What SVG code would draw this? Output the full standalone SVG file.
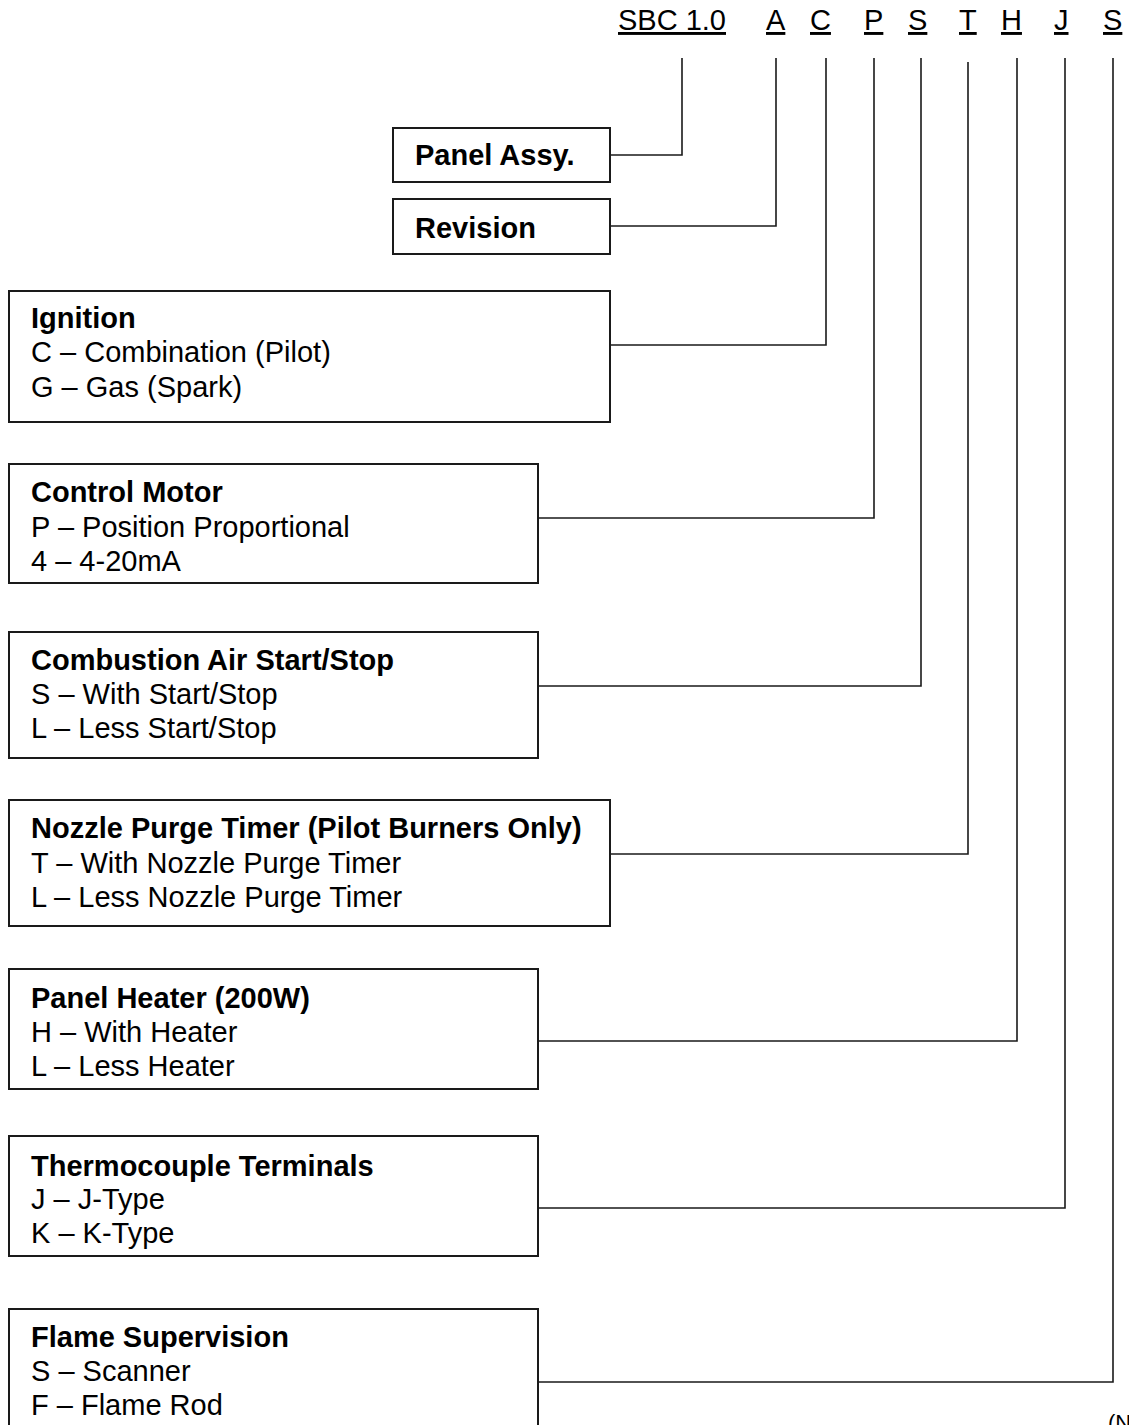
<svg xmlns="http://www.w3.org/2000/svg" width="1129" height="1425" viewBox="0 0 1129 1425">
<style>
text{font-family:"Liberation Sans",Arial,sans-serif;font-size:29px;fill:#000}
.b{font-weight:bold}
.u{text-decoration:underline}
.box{fill:#fff;stroke:#1a1a1a;stroke-width:2}
.c{fill:none;stroke:#1a1a1a;stroke-width:1.6}
</style>
<rect width="1129" height="1425" fill="#fff"/>
<g id="header">
<text class="u" x="618" y="30">SBC 1.0</text>
<text class="u" x="766" y="30">A</text>
<text class="u" x="810" y="30">C</text>
<text class="u" x="864" y="30">P</text>
<text class="u" x="908" y="30">S</text>
<text class="u" x="959" y="30">T</text>
<text class="u" x="1001" y="30">H</text>
<text class="u" x="1054" y="30">J</text>
<text class="u" x="1103" y="30">S</text>
</g>
<g id="connectors">
<polyline class="c" points="682,58 682,155 610,155"/>
<polyline class="c" points="776,58 776,226 610,226"/>
<polyline class="c" points="826,58 826,345 610,345"/>
<polyline class="c" points="874,58 874,518 538,518"/>
<polyline class="c" points="921,58 921,686 538,686"/>
<polyline class="c" points="968,62 968,854 610,854"/>
<polyline class="c" points="1017,58 1017,1041 538,1041"/>
<polyline class="c" points="1065,58 1065,1208 538,1208"/>
<polyline class="c" points="1113,58 1113,1382 538,1382"/>
</g>
<g id="panel-assy">
<rect class="box" x="393" y="128" width="217" height="54"/>
<text class="b" x="415" y="165">Panel Assy.</text>
</g>
<g id="revision">
<rect class="box" x="393" y="199" width="217" height="55"/>
<text class="b" x="415" y="238">Revision</text>
</g>
<g id="ignition">
<rect class="box" x="9" y="291" width="601" height="131"/>
<text class="b" x="31" y="328">Ignition</text>
<text x="31" y="362">C – Combination (Pilot)</text>
<text x="31" y="397">G – Gas (Spark)</text>
</g>
<g id="control-motor">
<rect class="box" x="9" y="464" width="529" height="119"/>
<text class="b" x="31" y="502">Control Motor</text>
<text x="31" y="537">P – Position Proportional</text>
<text x="31" y="571">4 – 4-20mA</text>
</g>
<g id="combustion-air">
<rect class="box" x="9" y="632" width="529" height="126"/>
<text class="b" x="31" y="670">Combustion Air Start/Stop</text>
<text x="31" y="704">S – With Start/Stop</text>
<text x="31" y="738">L – Less Start/Stop</text>
</g>
<g id="nozzle-purge">
<rect class="box" x="9" y="800" width="601" height="126"/>
<text class="b" x="31" y="838">Nozzle Purge Timer (Pilot Burners Only)</text>
<text x="31" y="873">T – With Nozzle Purge Timer</text>
<text x="31" y="907">L – Less Nozzle Purge Timer</text>
</g>
<g id="panel-heater">
<rect class="box" x="9" y="969" width="529" height="120"/>
<text class="b" x="31" y="1008">Panel Heater (200W)</text>
<text x="31" y="1042">H – With Heater</text>
<text x="31" y="1076">L – Less Heater</text>
</g>
<g id="thermocouple">
<rect class="box" x="9" y="1136" width="529" height="120"/>
<text class="b" x="31" y="1176">Thermocouple Terminals</text>
<text x="31" y="1209">J – J-Type</text>
<text x="31" y="1243">K – K-Type</text>
</g>
<g id="flame-supervision">
<rect class="box" x="9" y="1309" width="529" height="130"/>
<text class="b" x="31" y="1347">Flame Supervision</text>
<text x="31" y="1381">S – Scanner</text>
<text x="31" y="1415">F – Flame Rod</text>
</g>
<text x="1108" y="1430" style="font-size:22px">(N</text>
</svg>
